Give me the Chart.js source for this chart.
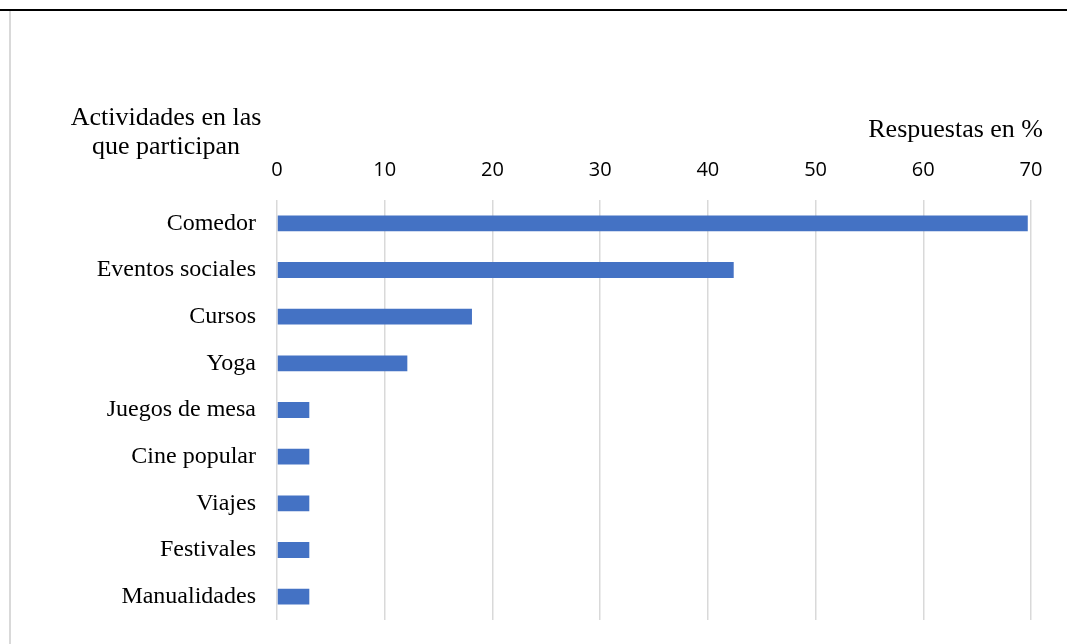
<!DOCTYPE html>
<html>
<head>
<meta charset="utf-8">
<script src="https://cdn.jsdelivr.net/npm/chart.js@4"></script>
<style>
  html, body { margin: 0; padding: 0; background: #fff; }
  .wrap { position: relative; width: 1067px; height: 644px; }
  .frame-top { position: absolute; left: 0; top: 9px; width: 1067px; height: 2px; background: #000; }
  .frame-left { position: absolute; left: 9px; top: 11px; width: 2px; height: 633px; background: #d9d9d9; }
  canvas { position: absolute; left: 0; top: 0; }
</style>
</head>
<body>
<div class="wrap">
  <div class="frame-top"></div>
  <div class="frame-left"></div>
  <canvas id="actChart" width="1067" height="644"></canvas>
</div>
<script>
// Actividades y porcentaje de respuestas
const actividades = ['Comedor', 'Eventos sociales', 'Cursos', 'Yoga', 'Juegos de mesa',
  'Cine popular', 'Viajes', 'Festivales', 'Manualidades'];
const respuestas = [69.7, 42.4, 18.1, 12.1, 3, 3, 3, 3, 3];
const ejeTicks = [0, 10, 20, 30, 40, 50, 60, 70];

// titles drawn next to the axes
const axisTitles = {
  id: 'axisTitles',
  afterDraw(chart) {
    const c = chart.ctx;
    c.save();
    c.fillStyle = '#000';
    c.font = '26px "Liberation Serif", "Times New Roman", serif';
    c.textBaseline = 'middle';
    c.textAlign = 'center';
    c.fillText('Actividades en las', 166, 118);
    c.fillText('que participan', 166, 147);
    c.textAlign = 'right';
    c.fillText('Respuestas en %', 1043, 130);
    c.restore();
  }
};

const ctx = document.getElementById('actChart').getContext('2d');
new Chart(ctx, {
  type: 'bar',
  data: {
    labels: actividades,
    datasets: [{
      data: respuestas,
      backgroundColor: '#4472C4',
      barPercentage: 0.68,
      categoryPercentage: 0.5
    }]
  },
  options: {
    indexAxis: 'y',
    responsive: false,
    animation: false,
    layout: { padding: { left: 0, right: 36, top: 0, bottom: 24 } },
    plugins: { legend: { display: false }, tooltip: { enabled: false } },
    scales: {
      x: {
        position: 'top',
        min: 0,
        max: 70,
        afterFit(scale) { scale.height = 200; },
        afterBuildTicks(scale) { scale.ticks = ejeTicks.map(v => ({ value: v })); },
        grid: { color: '#d9d9d9', lineWidth: 1.5, drawTicks: false },
        border: { display: false },
        ticks: {
          padding: 18,
          color: '#000',
          font: { family: '"Open Sans", "Noto Sans", sans-serif', size: 20 }
        }
      },
      y: {
        afterFit(scale) {
          scale.width = 277;
          scale.paddingTop = 0;
          scale.paddingBottom = 0;
        },
        grid: { display: false, drawTicks: false },
        border: { display: false },
        ticks: {
          padding: 21,
          color: '#000',
          font: { family: '"Liberation Serif", "Times New Roman", serif', size: 24 }
        }
      }
    }
  },
  plugins: [axisTitles]
});
</script>
</body>
</html>
